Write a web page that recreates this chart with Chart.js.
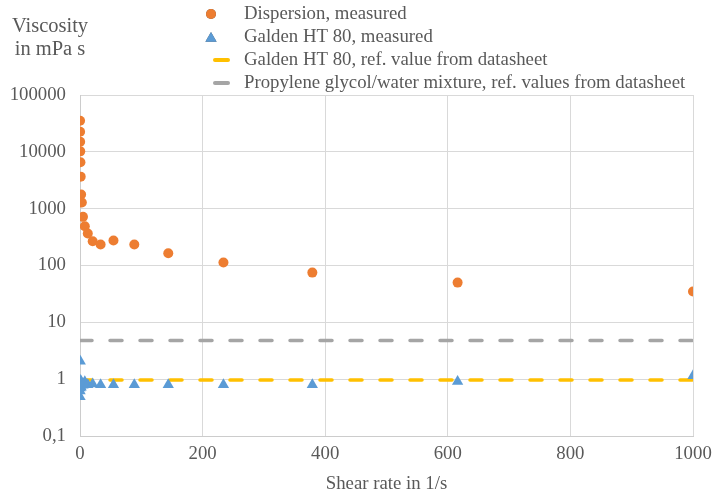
<!DOCTYPE html>
<html>
<head>
<meta charset="utf-8">
<script src="https://cdn.jsdelivr.net/npm/chart.js@4.4.1/dist/chart.umd.min.js"></script>
<style>
  html, body { margin: 0; padding: 0; background: #fff; }
  #wrap { width: 712px; height: 497px; }
</style>
</head>
<body>
<div id="wrap"><canvas id="viscChart" width="712" height="497"></canvas></div>
<script>
// shear rates (1/s), shared by both measurement series
const shearRates = [0.1, 0.162, 0.264, 0.428, 0.695, 1.13, 1.83, 2.98, 4.83, 7.85,
                    12.7, 20.7, 33.6, 54.6, 88.6, 144, 234, 379, 616, 1000];
// viscosity in mPa s
const dispersion = [35300, 22600, 15100, 10200, 6540, 3660, 1770, 1280, 718, 491,
                    365, 267, 234, 275, 234, 164, 113, 75, 50, 35];
const galdenMeasured = [0.49, 0.62, 0.7, 2.06, 0.75, 0.95, 0.72, 0.85, 0.78, 0.9,
                        0.8, 0.82, 0.8, 0.8, 0.8, 0.8, 0.8, 0.8, 0.91, 1.15];
// datasheet reference values, constant over the range
const refRates = [0, 1000];
const galdenRef = [0.97, 0.97];
const glycolRef = [4.8, 4.8];

const xTickLabels = ['0', '200', '400', '600', '800', '1000'];
const yTicks = [0.1, 1, 10, 100, 1000, 10000, 100000];
const yTickLabels = ['0,1', '1', '10', '100', '1000', '10000', '100000'];

const seriesNames = [
    'Dispersion, measured',
    'Galden HT 80, measured',
    'Galden HT 80, ref. value from datasheet',
    'Propylene glycol/water mixture, ref. values from datasheet'
];

const textColor = '#595959';
const fontFamily = "'Liberation Serif', 'Times New Roman', serif";
const fontSize = 18.8;

function toPoints(xs, ys) {
    return xs.map((x, i) => ({ x: x, y: ys[i] }));
}

// axis caption and legend in the top band
const headerPlugin = {
    id: 'header',
    afterDraw(chart) {
        const ctx = chart.ctx;
        const ds = chart.data.datasets;
        ctx.save();
        ctx.fillStyle = textColor;
        ctx.textBaseline = 'middle';

        ctx.font = '20.5px ' + fontFamily;
        ctx.textAlign = 'center';
        ctx.fillText('Viscosity', 50, 27);
        ctx.fillText('in mPa s', 50, 50);

        ctx.font = fontSize + 'px ' + fontFamily;
        ctx.textAlign = 'left';
        const rows = [14, 37, 60, 83];
        const mx = 211;
        ds.forEach((d, i) => {
            const y = rows[i];
            if (d.showLine === false) {
                Chart.helpers.drawPoint(ctx, {
                    pointStyle: d.pointStyle,
                    radius: d.pointStyle === 'triangle' ? 6.5 : 5,
                    borderWidth: 0
                }, mx, y + (d.pointStyle === 'triangle' ? 1.5 : 0));
                ctx.fillStyle = d.backgroundColor;
                ctx.fill();
            } else {
                ctx.beginPath();
                ctx.strokeStyle = d.borderColor;
                ctx.lineWidth = 4;
                ctx.lineCap = 'round';
                ctx.moveTo(215, y);
                ctx.lineTo(228, y);
                ctx.stroke();
            }
            ctx.fillStyle = textColor;
            ctx.fillText(seriesNames[i], 244, y);
        });
        ctx.restore();
    }
};

const ctx = document.getElementById('viscChart').getContext('2d');
new Chart(ctx, {
    type: 'scatter',
    data: {
        datasets: [
            {
                label: seriesNames[0],
                data: toPoints(shearRates, dispersion),
                showLine: false,
                pointStyle: 'circle',
                pointRadius: 5,
                pointBorderWidth: 0,
                backgroundColor: '#ED7D31'
            },
            {
                label: seriesNames[1],
                data: toPoints(shearRates, galdenMeasured),
                showLine: false,
                pointStyle: 'triangle',
                pointRadius: 6.5,
                pointBorderWidth: 0,
                backgroundColor: '#5B9BD5'
            },
            {
                label: seriesNames[2],
                data: toPoints(refRates, galdenRef),
                showLine: true,
                pointRadius: 0,
                borderColor: '#FFC000',
                borderWidth: 3.5,
                borderDash: [12, 18],
                borderCapStyle: 'round'
            },
            {
                label: seriesNames[3],
                data: toPoints(refRates, glycolRef),
                showLine: true,
                pointRadius: 0,
                borderColor: '#A5A5A5',
                borderWidth: 3.5,
                borderDash: [12, 18],
                borderCapStyle: 'round'
            }
        ]
    },
    options: {
        responsive: false,
        animation: false,
        layout: { padding: { left: 0, right: 19, top: 95, bottom: 0 } },
        plugins: {
            legend: { display: false },
            tooltip: { enabled: false }
        },
        scales: {
            x: {
                type: 'linear',
                min: 0,
                max: 1000,
                ticks: {
                    stepSize: 200,
                    color: textColor,
                    font: { family: fontFamily, size: fontSize },
                    padding: 7,
                    maxRotation: 0,
                    callback: (value, index) => xTickLabels[index]
                },
                grid: { color: '#d9d9d9', drawTicks: false },
                border: { color: '#cccccc' },
                title: {
                    display: true,
                    text: 'Shear rate in 1/s',
                    color: textColor,
                    font: { family: fontFamily, size: fontSize },
                    padding: { top: 0, bottom: 2 }
                },
                afterFit: scale => {
                    scale.height = 61;
                    // the layout padding already leaves room for the end labels
                    scale.paddingLeft = 0;
                    scale.paddingRight = 0;
                }
            },
            y: {
                type: 'logarithmic',
                min: 0.1,
                max: 100000,
                afterBuildTicks: scale => {
                    scale.ticks = yTicks.map(v => ({ value: v }));
                },
                ticks: {
                    autoSkip: false,
                    color: textColor,
                    font: { family: fontFamily, size: fontSize },
                    padding: 14,
                    callback: (value, index) => yTickLabels[index]
                },
                grid: { color: '#d9d9d9', drawTicks: false },
                border: { color: '#cccccc' },
                afterFit: scale => { scale.width = 80; }
            }
        }
    },
    plugins: [headerPlugin]
});
</script>
</body>
</html>
